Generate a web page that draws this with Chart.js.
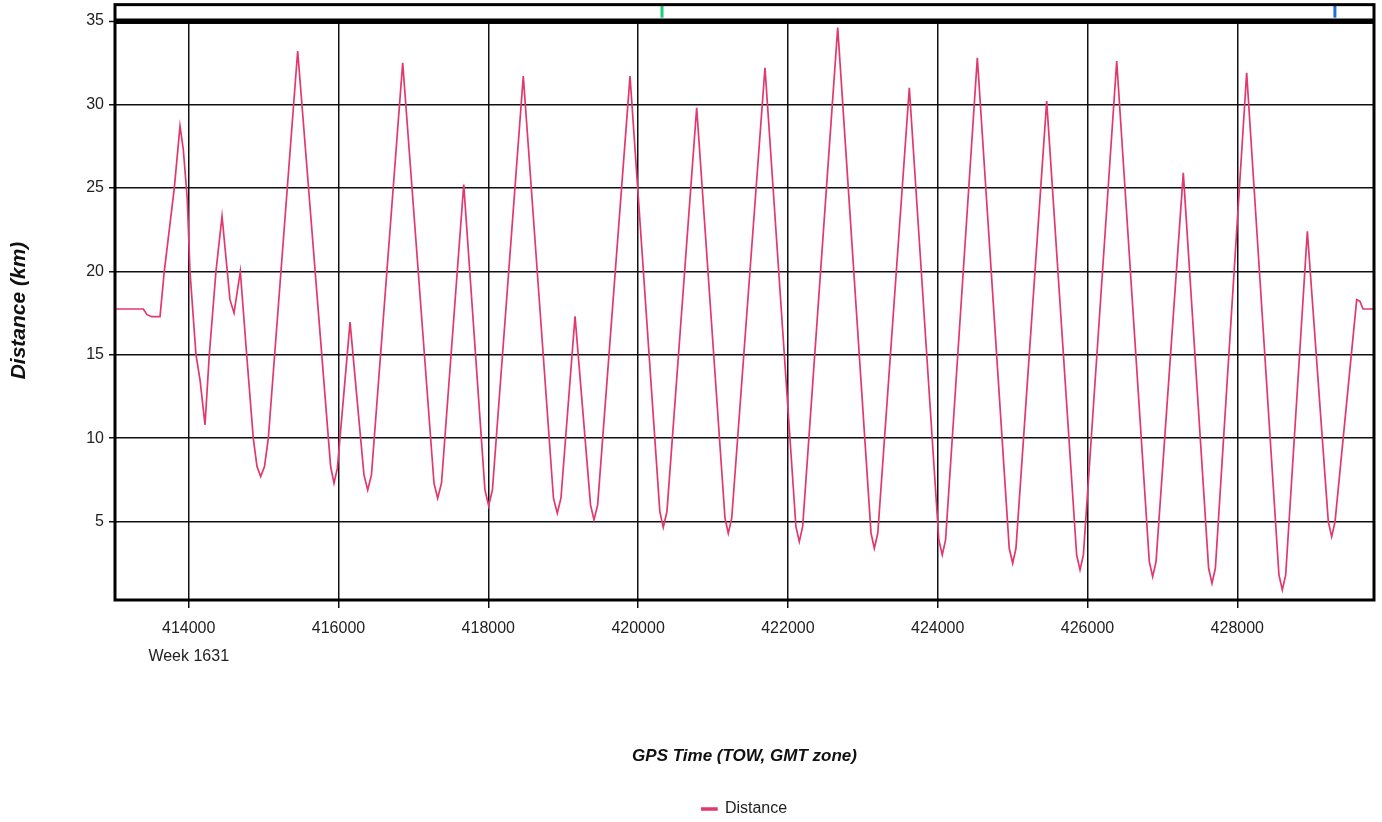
<!DOCTYPE html>
<html>
<head>
<meta charset="utf-8">
<script src="https://cdn.jsdelivr.net/npm/chart.js@4"></script>
<style>
  html, body { margin: 0; padding: 0; background: #fff; overflow: hidden; }
  #wrap { width: 1382px; height: 822px; }
</style>
</head>
<body>
<div id="wrap"><canvas id="c" width="1382" height="822"></canvas></div>
<script>
// Axis ticks
const xTicks = [414000, 416000, 418000, 420000, 422000, 424000, 426000, 428000];
const yTicks = [5, 10, 15, 20, 25, 30, 35];
const weekLabel = 'Week 1631';

// GPS time of week (s) and distance to base (km)
const timeTow = [
  413016, 413394, 413443, 413506, 413617, 413674, 413808, 413884, 413928, 413981,
  414017, 414097, 414151, 414218, 414275, 414364, 414445, 414515, 414551, 414605,
  414689, 414774, 414862, 414912, 414961, 415012, 415063, 415455, 415895, 415940,
  415985, 416154, 416340, 416390, 416440, 416857, 417275, 417324, 417375, 417672,
  417955, 418005, 418055, 418467, 418870, 418921, 418970, 419158, 419365, 419411,
  419460, 419892, 420290, 420336, 420385, 420782, 421160, 421204, 421250, 421694,
  422107, 422152, 422197, 422665, 423110, 423154, 423200, 423621, 424015, 424061,
  424105, 424529, 424955, 425001, 425045, 425455, 425855, 425900, 425945, 426390,
  426825, 426870, 426915, 427279, 427617, 427662, 427707, 428125, 428556, 428601,
  428646, 428935, 429215, 429260, 429305, 429594, 429638, 429678, 429825
];
const distanceKm = [
  17.74, 17.74, 17.4, 17.28, 17.28, 20.0, 25.0, 28.7, 27.3, 24.3,
  20.0, 15.0, 13.5, 10.8, 15.0, 20.0, 23.3, 20.0, 18.3, 17.5,
  20.0, 15.0, 10.0, 8.3, 7.7, 8.3, 10.0, 33.2, 8.3, 7.3,
  8.2, 16.95, 7.8, 6.9, 7.8, 32.5, 7.3, 6.4, 7.3, 25.2,
  6.9, 5.95, 6.9, 31.7, 6.4, 5.5, 6.4, 17.3, 6.0, 5.1,
  6.0, 31.7, 5.6, 4.65, 5.6, 29.8, 5.2, 4.3, 5.2, 32.2,
  4.7, 3.8, 4.7, 34.6, 4.3, 3.4, 4.3, 31.0, 3.9, 3.0,
  3.9, 32.8, 3.4, 2.5, 3.4, 30.2, 3.0, 2.1, 3.0, 32.6,
  2.6, 1.7, 2.6, 25.9, 2.2, 1.3, 2.2, 31.9, 1.8, 0.9,
  1.8, 22.4, 5.0, 4.1, 5.0, 18.3, 18.2, 17.74, 17.74
];

// Event markers shown in the strip above the plot
const markerTimes = [420319, 429303];
const markerColors = ['#1ccf78', '#1f6fd8'];

const X_MIN = 413016, X_MAX = 429825;
const Y_MIN = 0.3, Y_MAX = 35;
const STRIP_TOP = 35.98, STRIP_LOW = 35.2, STRIP_HIGH = 35.95;

const FONT = '"Liberation Sans", Arial, Helvetica, sans-serif';
const LINE_COLOR = '#e2386e';

// Plot frame: outer box including the strip, heavy rule under the strip
const framePlugin = {
  id: 'plotFrame',
  afterDatasetsDraw(chart) {
    const { ctx, chartArea: a, scales } = chart;
    const top = scales.y.getPixelForValue(STRIP_TOP);
    ctx.save();
    ctx.strokeStyle = '#000';
    ctx.lineWidth = 3;
    ctx.strokeRect(a.left, top, a.right - a.left, a.bottom - top);
    ctx.lineWidth = 5;
    ctx.beginPath();
    ctx.moveTo(a.left, a.top);
    ctx.lineTo(a.right, a.top);
    ctx.stroke();
    ctx.restore();
  }
};

const datasets = [{
  label: 'Distance',
  data: timeTow.map((t, i) => ({ x: t, y: distanceKm[i] })),
  borderColor: LINE_COLOR,
  backgroundColor: LINE_COLOR,
  borderWidth: 1.7,
  pointRadius: 0,
  tension: 0
}];
markerTimes.forEach((t, i) => {
  datasets.push({
    label: 'marker' + i,
    data: [{ x: t, y: STRIP_LOW }, { x: t, y: STRIP_HIGH }],
    borderColor: markerColors[i],
    borderWidth: 3,
    pointRadius: 0,
    clip: false
  });
});

new Chart(document.getElementById('c'), {
  type: 'line',
  data: { datasets },
  plugins: [framePlugin],
  options: {
    responsive: false,
    animation: false,
    layout: { padding: { top: 21, right: 8, bottom: -5, left: 0 } },
    plugins: {
      tooltip: { enabled: false },
      legend: {
        position: 'bottom',
        fullSize: false,
        labels: {
          filter: (item) => item.datasetIndex === 0,
          font: { family: FONT, size: 16 },
          color: '#222',
          boxWidth: 15,
          boxHeight: 2,
          padding: 6
        }
      }
    },
    scales: {
      x: {
        type: 'linear',
        min: X_MIN,
        max: X_MAX,
        afterBuildTicks: (s) => { s.ticks = xTicks.map(v => ({ value: v })); },
        afterFit: (s) => { s.height = 195; },
        border: { display: false },
        grid: { color: '#111', lineWidth: 1.5, tickLength: 8, tickWidth: 1.5 },
        ticks: {
          font: { family: FONT, size: 16, lineHeight: 1.75 },
          color: '#222',
          padding: 7,
          maxRotation: 0,
          autoSkip: false,
          callback: (v) => v === xTicks[0] ? [String(v), weekLabel] : String(v)
        },
        title: {
          display: true,
          text: 'GPS Time (TOW, GMT zone)',
          font: { family: FONT, size: 17, weight: 'bold', style: 'italic' },
          color: '#111',
          padding: { top: 0, bottom: 28 }
        }
      },
      y: {
        min: Y_MIN,
        max: Y_MAX,
        afterBuildTicks: (s) => { s.ticks = yTicks.map(v => ({ value: v })); },
        afterFit: (s) => { s.width = 115; },
        border: { display: false },
        grid: {
          color: '#111',
          lineWidth: (c) => (c.tick && c.tick.value === 35 ? 5 : 1.5),
          tickLength: 6,
          tickWidth: 1.5
        },
        ticks: {
          font: { family: FONT, size: 16 },
          color: '#222',
          padding: 5,
          callback: (v) => String(v)
        },
        title: {
          display: true,
          text: 'Distance (km)',
          font: { family: FONT, size: 21, weight: 'bold', style: 'italic' },
          color: '#111',
          padding: { top: 7, bottom: 0 }
        }
      }
    }
  }
});
</script>
</body>
</html>
